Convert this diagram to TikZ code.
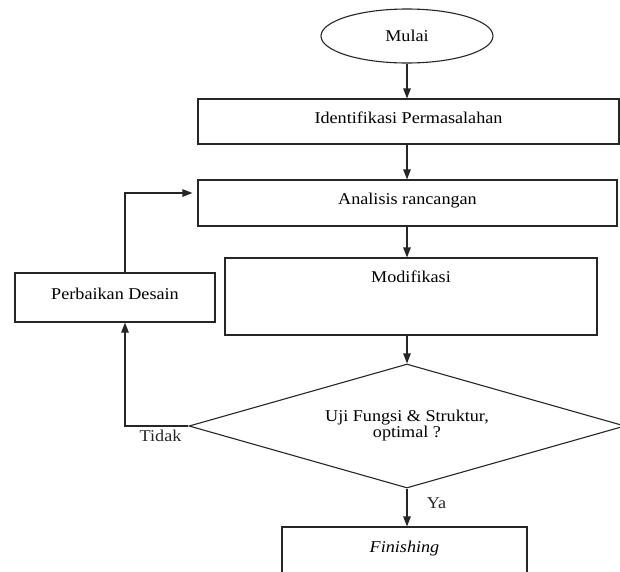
\documentclass[tikz,border=0pt]{standalone}
\usepackage{fontspec}
\setmainfont[FakeStretch=1.1]{Liberation Serif}
\usetikzlibrary{arrows.meta,positioning,shapes.geometric}
\tikzset{
  kotak/.style={rectangle,draw=black!85,line width=1.1pt,align=center,inner sep=4pt,text height=11pt,text depth=8pt},
  terminal/.style={ellipse,draw=black!85,line width=1.1pt,minimum width=172pt,minimum height=54pt,inner sep=0pt},
  keputusan/.style={diamond,aspect=3.5,draw=black!85,line width=1.1pt,align=center,minimum width=436pt,minimum height=124pt,inner sep=0pt,font=\fontsize{16.5}{16}\selectfont},
  panah/.style={-{Triangle[length=10pt,width=7.5pt]},line width=1.1pt,black!85}
}

\begin{document}
\begin{tikzpicture}[x=1pt,y=-1pt,font=\fontsize{16.5}{17}\selectfont]
    \clip (0,0) rectangle (620,571);
    \node[terminal] (mulai) at (407,36) {Mulai};
    \node[kotak,minimum width=421pt,minimum height=45pt] (identifikasi) at (408.5,121.5) {Identifikasi Permasalahan};
    \node[kotak,minimum width=419pt,minimum height=46pt] (analisis) at (407.5,203) {Analisis rancangan};
    \node[kotak,minimum width=372pt,minimum height=77pt,text height=20.5pt,text depth=48.5pt] (modifikasi) at (411,296.5) {Modifikasi};
    \node[kotak,minimum width=200pt,minimum height=49pt] (perbaikan) at (115,297.5) {Perbaikan Desain};
    \node[keputusan] (uji) at (407,426) {Uji Fungsi \& Struktur,\\optimal ?};
    \node[kotak,minimum width=245pt,text height=21pt,text depth=44pt] (finishing) at (404.5,563.5) {\textit{Finishing}};
    \coordinate (poros) at (407,0);
    \coordinate (kiri) at (125,193);
    \draw[panah] (mulai.south) -- (identifikasi.north -| poros);
    \draw[panah] (identifikasi.south -| poros) -- (analisis.north -| poros);
    \draw[panah] (analisis.south -| poros) -- (modifikasi.north -| poros);
    \draw[panah] (modifikasi.south -| poros) -- (uji.north);
    \draw[panah] (uji.south) -- (finishing.north -| poros) node[pos=0.38,right=16pt] {Ya};
    \draw[panah] (uji.west) -| (kiri |- perbaikan.south) node[pos=0.22,below] {Tidak};
    \draw[panah,shorten >=5pt] (perbaikan.north -| kiri) |- (analisis.west |- kiri);
  \end{tikzpicture}
\end{document}
